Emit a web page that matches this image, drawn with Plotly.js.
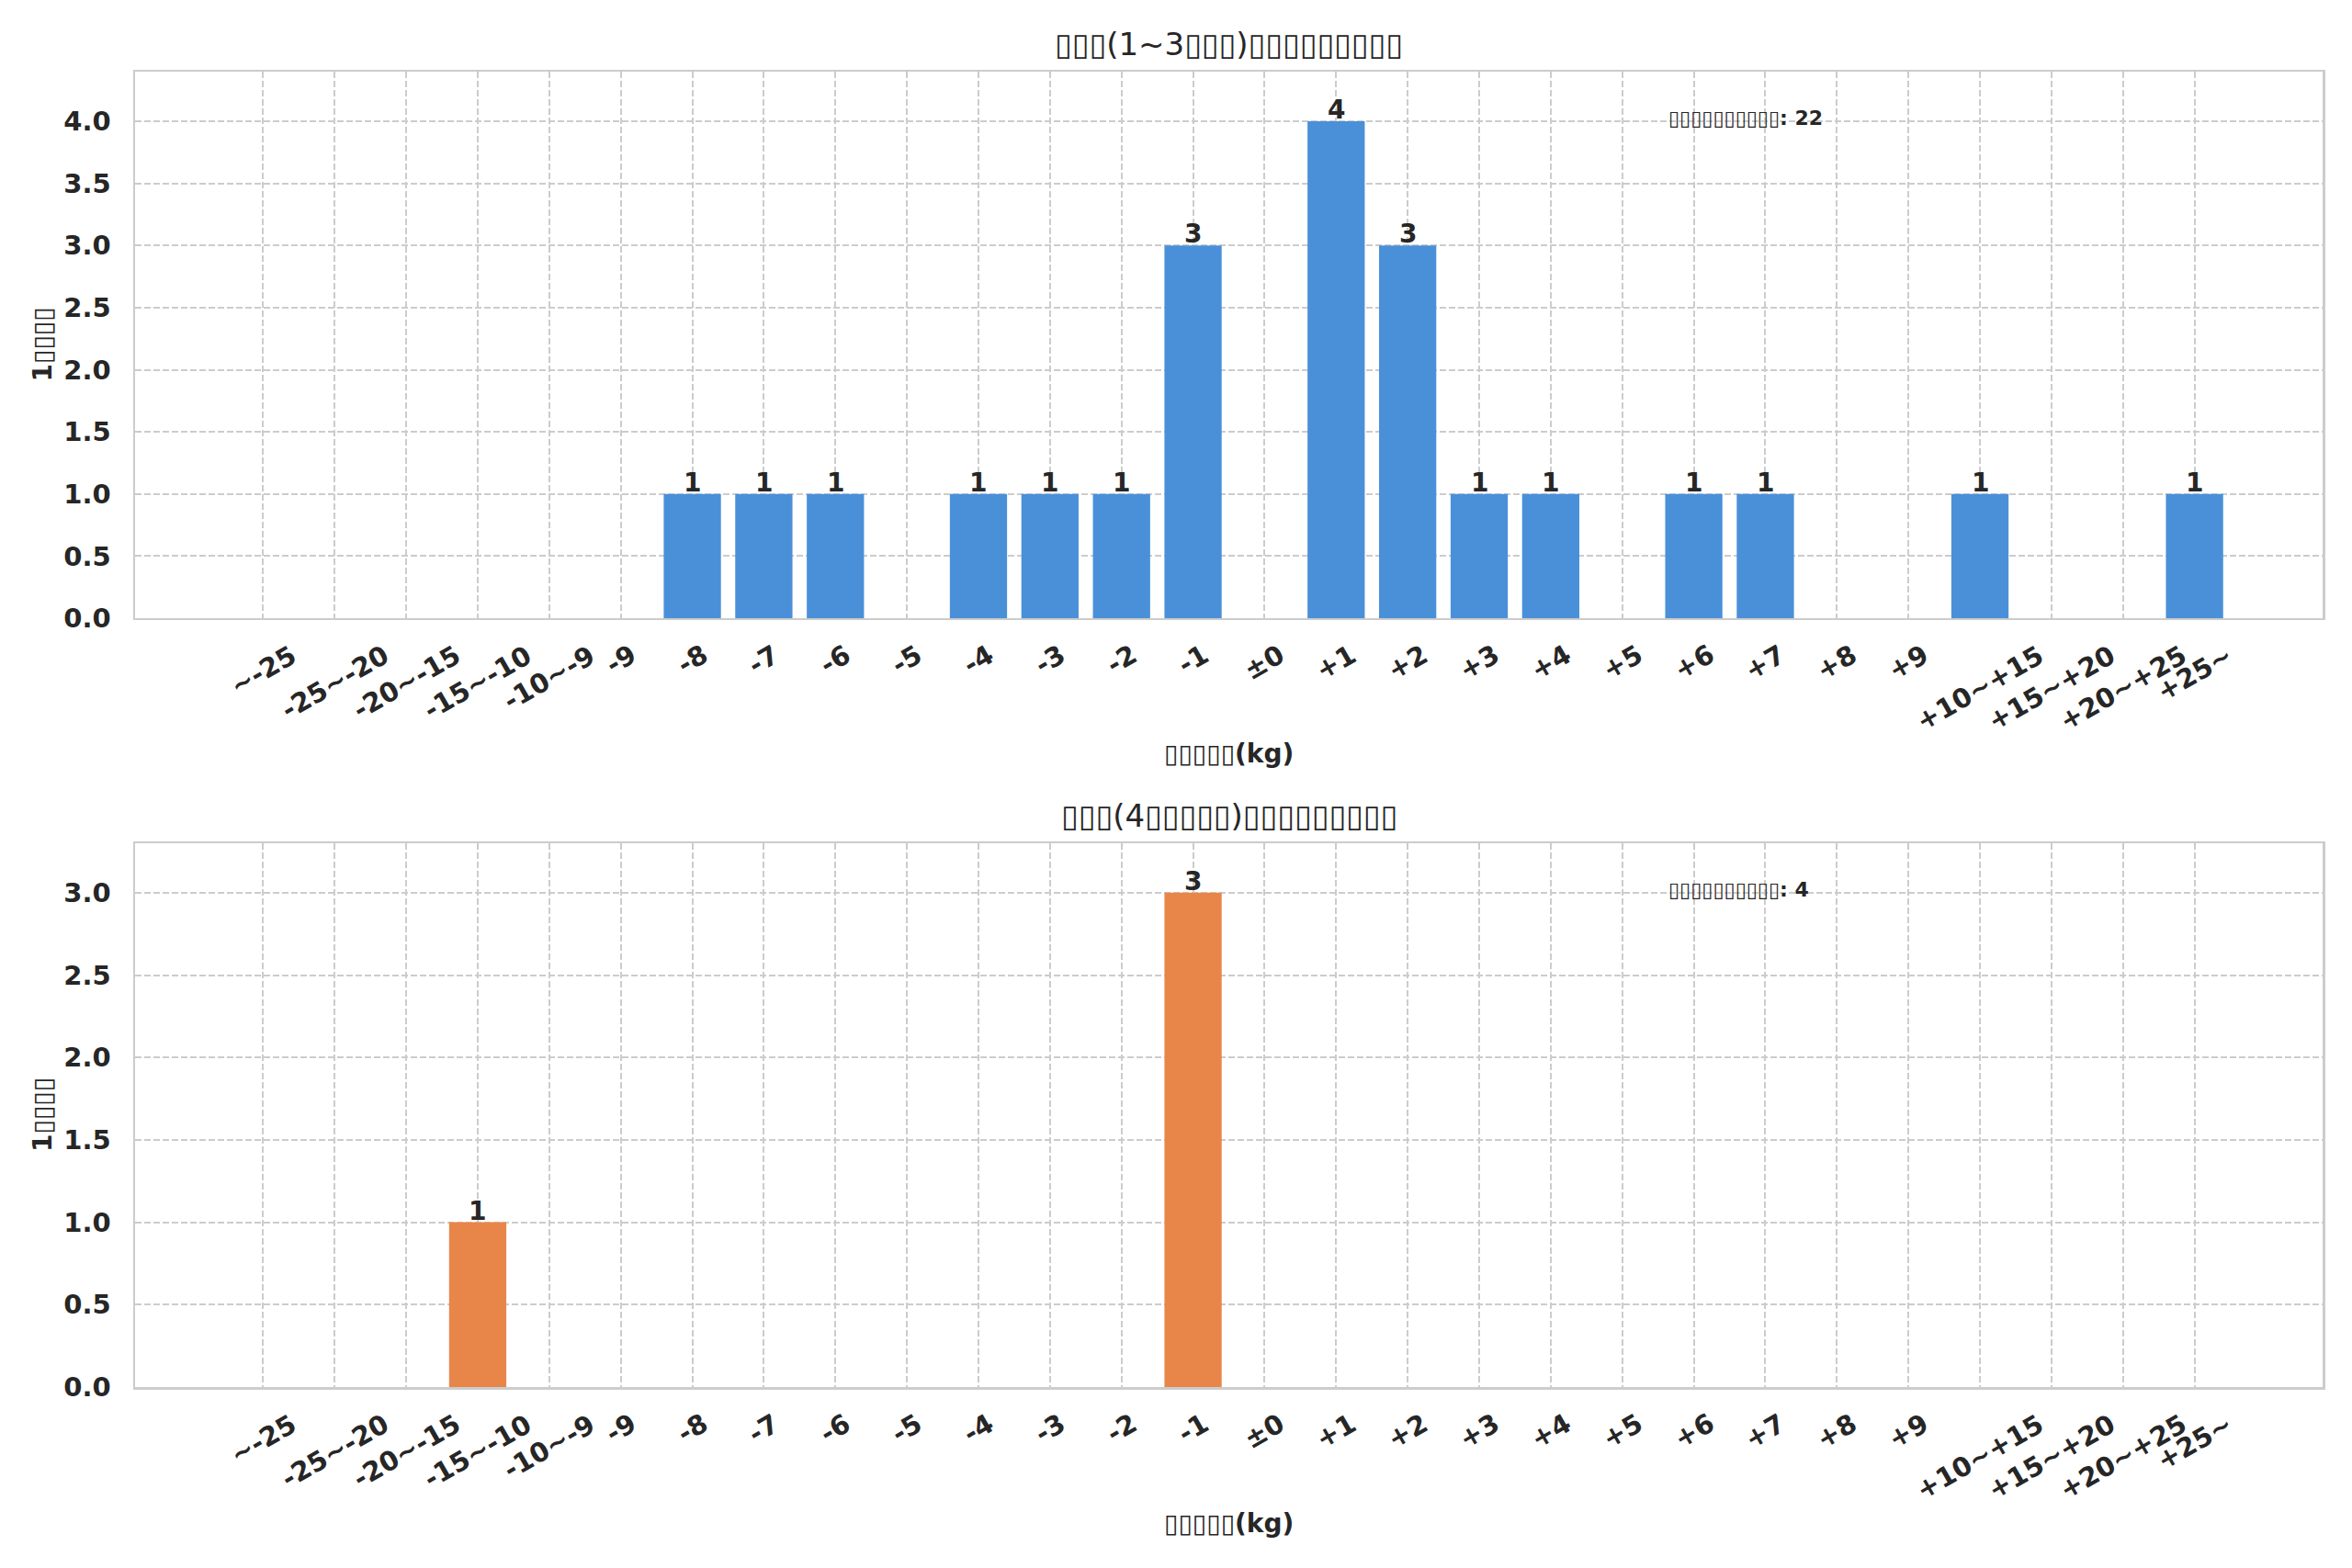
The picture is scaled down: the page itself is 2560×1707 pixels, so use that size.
<!DOCTYPE html>
<html>
<head>
<meta charset="utf-8">
<script src="https://cdn.plot.ly/plotly-3.0.1.min.js"></script>
<style>
  html, body { margin: 0; padding: 0; background: #fff; }
  #plot { width: 2560px; height: 1707px; }
</style>
</head>
<body>
<div id="plot"></div>
<script>
// weight change bins (kg)
const categories = ['~-25', '-25~-20', '-20~-15', '-15~-10', '-10~-9',
  '-9', '-8', '-7', '-6', '-5', '-4', '-3', '-2', '-1', '±0',
  '+1', '+2', '+3', '+4', '+5', '+6', '+7', '+8', '+9',
  '+10~+15', '+15~+20', '+20~+25', '+25~'];

const shortTermCounts = [0, 0, 0, 0, 0, 0, 1, 1, 1, 0, 1, 1, 1, 3, 0,
  4, 3, 1, 1, 0, 1, 1, 0, 0, 1, 0, 0, 1];
const longTermCounts = [0, 0, 0, 1, 0, 0, 0, 0, 0, 0, 0, 0, 0, 3, 0,
  0, 0, 0, 0, 0, 0, 0, 0, 0, 0, 0, 0, 0];

const titles = ['▯▯▯(1~3▯▯▯)▯▯▯▯▯▯▯▯▯', '▯▯▯(4▯▯▯▯▯)▯▯▯▯▯▯▯▯▯'];
const xLabel = '▯▯▯▯▯(kg)';
const yLabel = '1▯▯▯▯';
const totalLabel = '▯▯▯▯▯▯▯▯▯▯';
const colors = ['#4A90D9', '#E8864A'];

const FONT = 'DejaVu Sans, Verdana, sans-serif';
const INK = '#262626';

function barTrace(counts, color, xa, ya) {
  return {
    type: 'bar',
    x: categories,
    y: counts,
    xaxis: xa,
    yaxis: ya,
    marker: {color: color},
    hoverinfo: 'x+y'
  };
}

const data = [
  barTrace(shortTermCounts, colors[0], 'x', 'y'),
  barTrace(longTermCounts, colors[1], 'x2', 'y2')
];

function xAxis(anchor) {
  return {
    type: 'category',
    categoryorder: 'array',
    categoryarray: categories,
    range: [-1.79, 28.79],
    anchor: anchor,
    showticklabels: false,
    ticks: '',
    showgrid: true,
    gridcolor: '#cccccc',
    gridwidth: 2,
    griddash: '7px,3px',
    showline: true,
    mirror: true,
    linecolor: '#cccccc',
    linewidth: 2.5,
    zeroline: false
  };
}

function yAxis(anchor, top, domain) {
  return {
    anchor: anchor,
    domain: domain,
    range: [0, top],
    dtick: 0.5,
    tickformat: '.1f',
    ticks: '',
    ticklabelstandoff: 18,
    tickfont: {family: FONT, size: 29, color: INK, weight: 'bold'},
    showgrid: true,
    gridcolor: '#cccccc',
    gridwidth: 2,
    griddash: '7px,3px',
    showline: true,
    mirror: true,
    linecolor: '#cccccc',
    linewidth: 2.5,
    zeroline: false
  };
}

const annotations = [];
const panels = [
  {xa: 'x', ya: 'y', counts: shortTermCounts},
  {xa: 'x2', ya: 'y2', counts: longTermCounts}
];
panels.forEach((p, i) => {
  // tick labels, centred under each bar like the original
  categories.forEach((c, k) => {
    annotations.push({
      xref: p.xa, yref: p.ya + ' domain', x: k, y: 0,
      xanchor: 'center', yanchor: 'top', yshift: -20,
      textangle: -30, showarrow: false, text: c,
      font: {family: FONT, size: 29, color: INK, weight: 'bold'}
    });
  });
  // count on top of each non-empty bar
  p.counts.forEach((v, k) => {
    if (v > 0) {
      annotations.push({
        xref: p.xa, yref: p.ya, x: k, y: v,
        xanchor: 'center', yanchor: 'bottom', yshift: -6,
        showarrow: false, text: String(v),
        font: {family: FONT, size: 28, color: INK, weight: 'bold'}
      });
    }
  });
  annotations.push({
    xref: p.xa + ' domain', yref: p.ya + ' domain', x: 0.5, y: 1,
    xanchor: 'center', yanchor: 'middle', yshift: 30, showarrow: false,
    text: titles[i], font: {family: FONT, size: 34, color: INK}
  });
  annotations.push({
    xref: p.xa + ' domain', yref: p.ya + ' domain', x: 0.5, y: 0,
    xanchor: 'center', yanchor: 'middle', yshift: -148, showarrow: false,
    text: xLabel, font: {family: FONT, size: 28, color: INK, weight: 'bold'}
  });
  annotations.push({
    xref: p.xa + ' domain', yref: p.ya + ' domain', x: 0, y: 0.5,
    xanchor: 'center', yanchor: 'middle', xshift: -101, textangle: -90,
    showarrow: false, text: yLabel,
    font: {family: FONT, size: 28, color: INK, weight: 'bold'}
  });
  const total = p.counts.reduce((a, b) => a + b, 0);
  annotations.push({
    xref: p.xa + ' domain', yref: p.ya + ' domain', x: 0.70, y: 0.915,
    xanchor: 'left', yanchor: 'middle', showarrow: false,
    text: totalLabel + ': ' + total,
    font: {family: FONT, size: 22, color: INK, weight: 'bold'}
  });
});

const layout = {
  width: 2560,
  height: 1707,
  margin: {l: 147, r: 32, t: 78, b: 197},
  paper_bgcolor: '#ffffff',
  plot_bgcolor: '#ffffff',
  showlegend: false,
  bargap: 0.2,
  font: {family: FONT, color: INK},
  xaxis: xAxis('y'),
  yaxis: yAxis('x', 4.4, [0.5845, 1]),
  xaxis2: xAxis('y2'),
  yaxis2: yAxis('x2', 3.3, [0, 0.4134]),
  annotations: annotations
};

Plotly.newPlot('plot', data, layout, {displayModeBar: false, staticPlot: true});
</script>
</body>
</html>
